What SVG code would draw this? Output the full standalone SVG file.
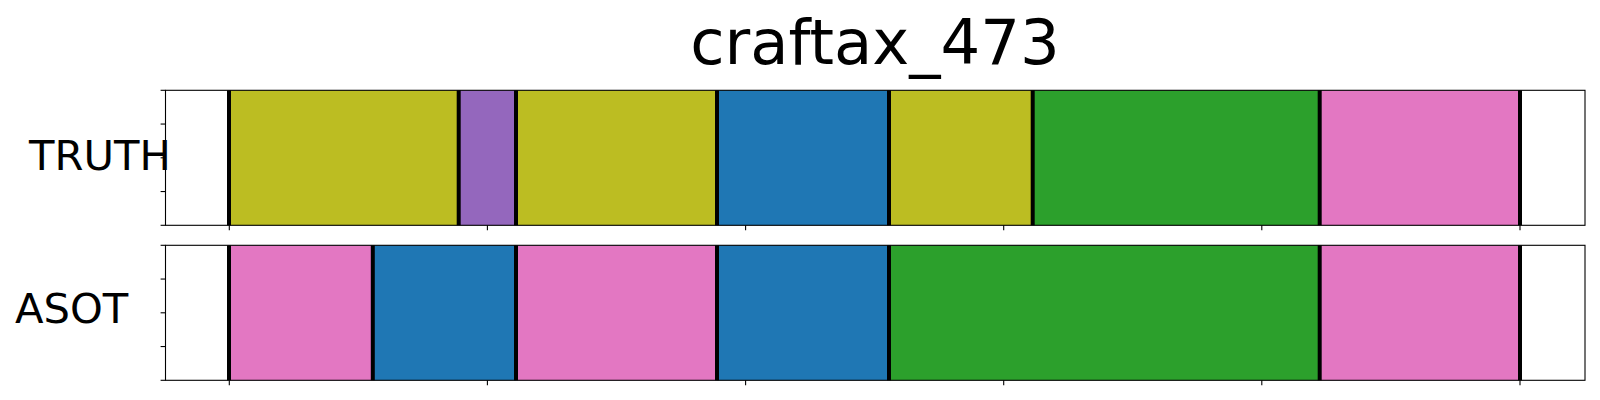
<svg xmlns="http://www.w3.org/2000/svg" width="1600" height="400" viewBox="0 0 1600 400">
  <style>
    .bg { fill: #ffffff; }
    .title { font-family: "DejaVu Sans", "Liberation Sans", sans-serif; font-size: 62.5px; fill: #000000; }
    .label { font-family: "DejaVu Sans", "Liberation Sans", sans-serif; font-size: 41.7px; fill: #000000; }
    .olive { fill: #bcbd22; }
    .purple { fill: #9467bd; }
    .blue { fill: #1f77b4; }
    .green { fill: #2ca02c; }
    .pink { fill: #e377c2; }
    .bound { stroke: #000000; stroke-width: 4; fill: none; }
    .frame { fill: none; stroke: #000000; stroke-width: 1.1; }
    .tick { stroke: #000000; stroke-width: 1.1; fill: none; }
  </style>
  <rect class="bg" x="0" y="0" width="1600" height="400"/>

  <g id="title">
    <text class="title" x="875" y="63.5" text-anchor="middle">craftax_473</text>
  </g>

  <g id="panel-truth">
    <text class="label" x="29" y="170">TRUTH</text>
    <g id="truth-segments">
      <rect class="olive" x="229.3" y="90.3" width="229.4" height="135"/>
      <rect class="purple" x="458.7" y="90.3" width="57.3" height="135"/>
      <rect class="olive" x="516" y="90.3" width="201" height="135"/>
      <rect class="blue" x="717" y="90.3" width="172" height="135"/>
      <rect class="olive" x="889" y="90.3" width="143.7" height="135"/>
      <rect class="green" x="1032.7" y="90.3" width="287" height="135"/>
      <rect class="pink" x="1319.7" y="90.3" width="200.3" height="135"/>
    </g>
    <g id="truth-boundaries">
      <line class="bound" x1="229" y1="90.3" x2="229" y2="225.3"/>
      <line class="bound" x1="458.7" y1="90.3" x2="458.7" y2="225.3"/>
      <line class="bound" x1="516" y1="90.3" x2="516" y2="225.3"/>
      <line class="bound" x1="717" y1="90.3" x2="717" y2="225.3"/>
      <line class="bound" x1="889" y1="90.3" x2="889" y2="225.3"/>
      <line class="bound" x1="1032.7" y1="90.3" x2="1032.7" y2="225.3"/>
      <line class="bound" x1="1319.7" y1="90.3" x2="1319.7" y2="225.3"/>
      <line class="bound" x1="1520" y1="90.3" x2="1520" y2="225.3"/>
    </g>
    <rect class="frame" x="165.5" y="90.3" width="1419.5" height="135"/>
    <g id="truth-ticks">
      <line class="tick" x1="160.6" y1="90.3" x2="165.5" y2="90.3"/>
      <line class="tick" x1="160.6" y1="124.05" x2="165.5" y2="124.05"/>
      <line class="tick" x1="160.6" y1="157.8" x2="165.5" y2="157.8"/>
      <line class="tick" x1="160.6" y1="191.55" x2="165.5" y2="191.55"/>
      <line class="tick" x1="160.6" y1="225.3" x2="165.5" y2="225.3"/>
      <line class="tick" x1="229.3" y1="225.3" x2="229.3" y2="230.2"/>
      <line class="tick" x1="487.4" y1="225.3" x2="487.4" y2="230.2"/>
      <line class="tick" x1="745.6" y1="225.3" x2="745.6" y2="230.2"/>
      <line class="tick" x1="1003.7" y1="225.3" x2="1003.7" y2="230.2"/>
      <line class="tick" x1="1261.8" y1="225.3" x2="1261.8" y2="230.2"/>
      <line class="tick" x1="1520" y1="225.3" x2="1520" y2="230.2"/>
    </g>
  </g>

  <g id="panel-asot">
    <text class="label" x="15" y="322.7">ASOT</text>
    <g id="asot-segments">
      <rect class="pink" x="229.3" y="245.3" width="143.5" height="135"/>
      <rect class="blue" x="372.8" y="245.3" width="143.2" height="135"/>
      <rect class="pink" x="516" y="245.3" width="201" height="135"/>
      <rect class="blue" x="717" y="245.3" width="172" height="135"/>
      <rect class="green" x="889" y="245.3" width="430.7" height="135"/>
      <rect class="pink" x="1319.7" y="245.3" width="200.3" height="135"/>
    </g>
    <g id="asot-boundaries">
      <line class="bound" x1="229" y1="245.3" x2="229" y2="380.3"/>
      <line class="bound" x1="372.8" y1="245.3" x2="372.8" y2="380.3"/>
      <line class="bound" x1="516" y1="245.3" x2="516" y2="380.3"/>
      <line class="bound" x1="717" y1="245.3" x2="717" y2="380.3"/>
      <line class="bound" x1="889" y1="245.3" x2="889" y2="380.3"/>
      <line class="bound" x1="1319.7" y1="245.3" x2="1319.7" y2="380.3"/>
      <line class="bound" x1="1520" y1="245.3" x2="1520" y2="380.3"/>
    </g>
    <rect class="frame" x="165.5" y="245.3" width="1419.5" height="135"/>
    <g id="asot-ticks">
      <line class="tick" x1="160.6" y1="245.3" x2="165.5" y2="245.3"/>
      <line class="tick" x1="160.6" y1="279.05" x2="165.5" y2="279.05"/>
      <line class="tick" x1="160.6" y1="312.8" x2="165.5" y2="312.8"/>
      <line class="tick" x1="160.6" y1="346.55" x2="165.5" y2="346.55"/>
      <line class="tick" x1="160.6" y1="380.3" x2="165.5" y2="380.3"/>
      <line class="tick" x1="229.3" y1="380.3" x2="229.3" y2="385.2"/>
      <line class="tick" x1="487.4" y1="380.3" x2="487.4" y2="385.2"/>
      <line class="tick" x1="745.6" y1="380.3" x2="745.6" y2="385.2"/>
      <line class="tick" x1="1003.7" y1="380.3" x2="1003.7" y2="385.2"/>
      <line class="tick" x1="1261.8" y1="380.3" x2="1261.8" y2="385.2"/>
      <line class="tick" x1="1520" y1="380.3" x2="1520" y2="385.2"/>
    </g>
  </g>
</svg>
